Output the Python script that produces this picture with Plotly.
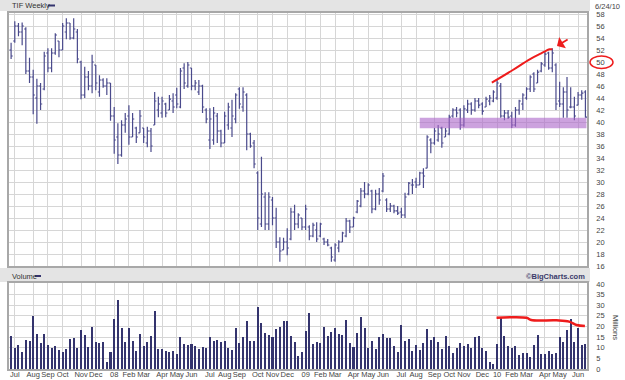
import pandas as pd
import plotly.graph_objects as go

# ---------------- data ----------------
week_start = "2007-06-25"
n_weeks = 157
weeks = pd.date_range(week_start, periods=n_weeks, freq="7D")

opens = [52.0, 53.5, 56.0, 55.0, 55.5, 48.5, 47.5, 44.0, 46.0, 45.5,
         51.5, 49.0, 51.5, 53.5, 52.0, 55.0, 56.5, 54.0, 55.0, 50.0,
         44.5, 47.5, 46.0, 49.5, 45.0, 47.0, 46.0, 46.5, 41.0, 37.5,
         34.5, 39.5, 41.0, 37.5, 39.0, 38.2, 39.0, 36.5, 38.5, 39.5,
         42.0, 41.5, 43.0, 42.0, 43.5, 44.5, 42.5, 49.0, 46.0, 49.0,
         46.0, 45.0, 46.0, 42.0, 37.0, 37.0, 41.0, 38.5, 36.5, 39.5,
         39.0, 40.5, 45.5, 42.5, 44.5, 38.0, 36.5, 31.5, 23.0, 27.5,
         23.0, 27.0, 24.0, 20.0, 18.7, 20.0, 20.5, 25.0, 23.0, 24.0,
         22.5, 22.5, 21.0, 22.0, 21.0, 20.5, 20.0, 19.0, 17.0, 19.0,
         20.0, 21.0, 23.5, 22.5, 25.0, 26.0, 28.5, 28.0, 28.5, 25.5,
         28.0, 28.5, 27.0, 25.5, 26.0, 25.2, 25.0, 24.5, 28.0, 29.5,
         30.0, 29.5, 31.5, 32.3, 37.0, 36.5, 37.0, 39.0, 37.5, 38.0,
         41.0, 42.0, 42.0, 39.5, 42.0, 43.0, 42.0, 43.5, 43.0, 42.5,
         43.5, 43.5, 44.0, 46.0, 41.0, 41.5, 41.0, 39.5, 42.0, 43.0,
         44.0, 45.5, 48.0, 46.5, 48.5, 49.5, 51.5, 49.0, 49.5, 43.5,
         43.0, 45.0, 42.5, 42.5, 42.8, 44.5, 45.0]
highs = [53.2, 56.8, 56.5, 56.6, 55.8, 50.7, 48.7, 47.2, 46.5, 51.7,
         52.3, 52.3, 54.8, 53.5, 56.5, 57.3, 56.5, 57.3, 55.5, 50.2,
         49.2, 48.5, 51.2, 49.5, 47.8, 47.3, 47.3, 46.5, 42.5, 39.8,
         40.3, 41.5, 42.8, 41.5, 39.2, 42.0, 39.0, 39.2, 39.0, 45.0,
         44.2, 44.2, 43.2, 44.5, 44.8, 45.7, 49.0, 49.8, 50.0, 49.0,
         47.0, 47.0, 46.2, 42.3, 42.3, 42.5, 41.5, 38.7, 41.7, 43.2,
         43.7, 44.8, 45.8, 45.8, 44.8, 38.2, 37.0, 31.8, 34.2, 28.3,
         28.3, 27.5, 25.7, 20.8, 20.7, 22.3, 25.7, 26.2, 24.8, 24.0,
         26.2, 22.8, 23.2, 23.3, 23.2, 20.7, 20.5, 19.2, 19.8, 20.3,
         21.7, 24.0, 23.7, 24.2, 27.0, 29.0, 30.0, 29.8, 28.7, 28.7,
         29.0, 31.5, 27.3, 26.5, 26.2, 26.0, 25.7, 28.2, 30.0, 30.5,
         30.7, 31.7, 32.3, 37.8, 37.3, 39.0, 39.5, 39.2, 39.0, 41.2,
         42.3, 42.5, 42.3, 42.8, 43.7, 43.3, 44.0, 44.0, 43.3, 44.2,
         44.5, 45.3, 47.0, 46.5, 42.0, 42.0, 41.7, 42.5, 43.7, 44.8,
         45.8, 47.8, 48.3, 48.7, 50.0, 51.7, 51.7, 52.3, 49.8, 46.7,
         45.8, 47.5, 45.8, 44.2, 45.0, 45.3, 45.3]
lows = [50.5, 53.2, 54.3, 52.8, 48.0, 46.5, 41.3, 39.7, 42.0, 45.3,
        48.3, 48.3, 51.2, 50.8, 52.0, 53.8, 53.7, 53.8, 49.8, 43.8,
        44.0, 45.3, 44.8, 45.3, 44.2, 45.7, 44.5, 40.2, 34.7, 33.0,
        34.2, 38.2, 36.2, 37.5, 36.5, 38.2, 36.5, 35.8, 35.0, 39.5,
        40.8, 40.7, 40.8, 42.0, 41.5, 42.3, 42.3, 45.5, 45.7, 45.3,
        45.3, 44.5, 41.5, 39.8, 35.5, 36.2, 36.5, 35.8, 36.5, 38.7,
        37.5, 39.8, 42.2, 41.7, 35.3, 35.7, 32.3, 22.0, 22.5, 22.0,
        22.0, 22.8, 19.0, 16.7, 18.7, 17.8, 20.3, 22.0, 22.3, 22.0,
        22.0, 20.3, 20.8, 20.0, 20.8, 19.5, 19.3, 16.7, 16.7, 18.3,
        20.0, 20.8, 21.5, 22.5, 24.8, 25.8, 27.3, 27.8, 24.8, 25.3,
        26.2, 28.3, 25.0, 25.0, 24.8, 24.5, 24.0, 24.0, 27.8, 28.0,
        29.0, 29.5, 29.0, 32.3, 34.8, 36.2, 36.7, 35.7, 37.5, 37.8,
        40.7, 40.8, 38.7, 39.2, 41.5, 41.2, 41.7, 42.3, 41.2, 42.5,
        42.8, 43.3, 43.7, 40.7, 40.3, 40.5, 39.0, 39.2, 41.2, 42.0,
        43.7, 45.0, 45.0, 46.5, 48.3, 49.2, 48.7, 48.3, 42.0, 42.5,
        40.7, 40.7, 42.3, 40.3, 42.8, 43.7, 40.7]
closes = [51.0, 56.0, 55.0, 56.0, 48.5, 47.5, 44.5, 46.0, 43.0, 51.0,
          49.0, 51.5, 54.5, 52.0, 56.0, 56.5, 54.0, 55.5, 50.5, 44.5,
          47.5, 46.0, 50.0, 46.5, 47.0, 46.0, 46.5, 41.0, 37.0, 34.5,
          39.5, 40.5, 37.5, 40.5, 37.5, 41.0, 37.5, 38.5, 36.0, 43.5,
          43.0, 43.5, 41.5, 43.8, 42.5, 43.0, 48.5, 46.5, 49.5, 46.0,
          46.5, 46.0, 42.5, 40.5, 40.5, 41.5, 38.5, 36.5, 41.0, 42.5,
          41.0, 44.5, 43.0, 45.0, 38.0, 36.0, 33.0, 24.0, 28.0, 23.0,
          27.5, 24.0, 20.0, 18.5, 20.0, 19.0, 25.0, 23.0, 24.5, 22.5,
          25.5, 21.0, 22.8, 20.5, 23.0, 20.0, 19.5, 17.5, 19.5, 20.0,
          21.5, 23.5, 22.5, 24.0, 26.8, 28.5, 28.0, 29.5, 25.5, 28.0,
          27.0, 31.0, 25.5, 26.0, 25.2, 24.8, 24.5, 27.5, 29.8, 29.5,
          29.5, 31.5, 31.0, 37.5, 36.5, 38.5, 38.0, 36.5, 38.5, 40.8,
          42.0, 41.5, 39.5, 42.2, 43.0, 42.0, 43.5, 42.8, 41.8, 43.8,
          44.0, 45.0, 46.5, 41.0, 41.5, 40.8, 39.5, 42.0, 43.5, 44.5,
          45.5, 47.5, 45.5, 48.3, 49.7, 51.3, 49.0, 51.5, 43.0, 43.0,
          45.0, 42.0, 42.5, 41.0, 44.5, 44.8, 40.8]
volume_millions = [15.5, 10.0, 11.3, 8.2, 13.6, 13.2, 24.9, 16.3, 12.1, 16.5,
                   11.3, 10.0, 10.8, 8.9, 7.8, 9.3, 14.1, 14.4, 10.0, 18.4,
                   16.0, 10.5, 19.9, 12.5, 12.4, 12.7, 3.5, 8.2, 23.5, 32.5,
                   19.1, 12.9, 19.5, 13.2, 8.5, 16.3, 11.0, 12.7, 15.5, 27.5,
                   9.3, 9.4, 8.5, 8.2, 8.6, 7.1, 14.9, 11.6, 11.3, 11.8,
                   11.0, 9.3, 10.5, 10.0, 15.2, 13.2, 13.6, 12.5, 13.2, 10.0,
                   8.9, 19.1, 12.1, 15.2, 22.6, 13.3, 13.3, 29.0, 21.5, 16.8,
                   16.0, 15.2, 18.8, 19.9, 22.6, 22.6, 15.5, 12.5, 6.1, 7.8,
                   18.0, 26.2, 11.9, 12.9, 12.1, 19.9, 15.5, 17.6, 19.5, 16.3,
                   16.0, 23.1, 12.1, 10.5, 17.1, 24.6, 19.1, 10.0, 13.2, 9.4,
                   14.9, 16.5, 14.7, 14.7, 10.8, 7.8, 20.7, 13.3, 14.1, 8.5,
                   11.2, 9.0, 12.4, 18.7, 13.5, 15.0, 12.8, 9.4, 15.6, 10.7,
                   7.7, 9.9, 12.4, 10.6, 11.7, 9.9, 15.1, 15.7, 9.9, 8.3,
                   3.3, 2.5, 12.0, 24.1, 15.6, 10.7, 9.9, 11.0, 6.8, 7.4,
                   7.4, 5.7, 11.3, 16.2, 7.2, 6.9, 8.5, 6.9, 7.7, 15.1,
                   12.8, 18.3, 23.3, 12.6, 19.2, 11.2, 11.7]

month_labels = ["Jul", "Aug", "Sep", "Oct", "Nov", "Dec", "08", "Feb", "Mar", "Apr", "May", "Jun",
                "Jul", "Aug", "Sep", "Oct", "Nov", "Dec", "09", "Feb", "Mar", "Apr", "May", "Jun",
                "Jul", "Aug", "Sep", "Oct", "Nov", "Dec", "10", "Feb", "Mar", "Apr", "May", "Jun"]
price_ticks = list(range(16, 59, 2))
volume_ticks = list(range(0, 41, 5))

# hand-drawn annotations (red trend lines, purple support band)
price_trend_dates = ["2009-12-25", "2010-02-03", "2010-03-07", "2010-03-29", "2010-04-14", "2010-04-19"]
price_trend_vals = [46.55, 48.67, 50.45, 51.45, 52.12, 52.12]
vol_trend_dates = ["2010-01-03", "2010-03-01", "2010-03-10", "2010-04-27", "2010-05-21", "2010-06-04", "2010-06-20"]
vol_trend_vals = [24.1, 24.1, 23.05, 22.9, 22.3, 20.7, 20.2]
band_dates = ["2009-08-10", "2010-06-23"]
band_prices = [38.95, 40.72]

# ---------------- figure ----------------
BAR = "#4a4a8c"
VOL = "#34346e"
GRID = "#d6d6d6"
BORDER = "#a8a8a8"
RED = "#ee1c1c"
FONT = "Liberation Sans"

# gridlines at the first weekly bar of each month
wk = pd.Series(weeks)
first_of_month = wk.groupby([wk.dt.year, wk.dt.month]).min().tolist()
first_of_month = [d for d in first_of_month if d >= pd.Timestamp("2007-07-01")]

fig = go.Figure()
fig.add_trace(go.Ohlc(
    x=weeks, open=opens, high=highs, low=lows, close=closes,
    increasing=dict(line=dict(color=BAR, width=1.2)),
    decreasing=dict(line=dict(color=BAR, width=1.2)),
    tickwidth=0.45, xaxis="x", yaxis="y", hoverinfo="skip"))
fig.add_trace(go.Bar(
    x=weeks, y=volume_millions, marker=dict(color=VOL, line=dict(width=0)),
    width=7 * 86400000 * 0.55, xaxis="x2", yaxis="y2", hoverinfo="skip"))
fig.add_trace(go.Scatter(
    x=price_trend_dates, y=price_trend_vals, mode="lines",
    line=dict(color=RED, width=2, shape="spline"), xaxis="x", yaxis="y", hoverinfo="skip"))
fig.add_trace(go.Scatter(
    x=vol_trend_dates, y=vol_trend_vals, mode="lines",
    line=dict(color=RED, width=2.5, shape="spline"), xaxis="x2", yaxis="y2", hoverinfo="skip"))

# pixel -> paper helpers (plot area x 9..587, y 13..369)
def px(x):
    return (x - 9) / 578.0

def py(y):
    return (369 - y) / 356.0

shapes = [
    # header bands
    dict(type="rect", xref="paper", yref="paper", x0=px(0), x1=px(590), y0=py(11), y1=py(0),
         fillcolor="#e4e4e4", line=dict(width=0), layer="below"),
    dict(type="rect", xref="paper", yref="paper", x0=px(0), x1=px(590), y0=py(282), y1=py(268),
         fillcolor="#e4e4e4", line=dict(width=0), layer="below"),
    # legend dashes
    dict(type="line", xref="paper", yref="paper", x0=px(48), x1=px(55), y0=py(5.5), y1=py(5.5),
         line=dict(color=VOL, width=2)),
    dict(type="line", xref="paper", yref="paper", x0=px(35), x1=px(41), y0=py(276), y1=py(276),
         line=dict(color=VOL, width=2)),
    # purple support band
    dict(type="rect", xref="x", yref="y", x0=band_dates[0], x1=band_dates[1],
         y0=band_prices[0], y1=band_prices[1],
         fillcolor="rgba(170,100,200,0.6)", line=dict(width=0), layer="above"),
    # red ellipse around 50
    dict(type="circle", xref="paper", yref="paper", x0=px(590), x1=px(613), y0=py(68.5), y1=py(56),
         line=dict(color=RED, width=1.5)),
]

annotations = [
    dict(text="TIF Weekly", xref="paper", yref="paper", x=px(10), y=py(5.5),
         xanchor="left", yanchor="middle", showarrow=False,
         font=dict(family=FONT, size=7.5, color="#333333")),
    dict(text="6/24/10", xref="paper", yref="paper", x=px(593), y=py(6),
         xanchor="left", yanchor="middle", showarrow=False,
         font=dict(family=FONT, size=7.5, color="#444444")),
    dict(text="Volume", xref="paper", yref="paper", x=px(10), y=py(276),
         xanchor="left", yanchor="middle", showarrow=False,
         font=dict(family=FONT, size=7.5, color="#333333")),
    dict(text="<b>©BigCharts.com</b>", xref="paper", yref="paper", x=px(587), y=py(276),
         xanchor="right", yanchor="middle", showarrow=False,
         font=dict(family=FONT, size=7.5, color="#3a3a6a")),
    dict(text="Millions", xref="paper", yref="paper", x=px(616), y=py(327),
         xanchor="center", yanchor="middle", showarrow=False, textangle=90,
         font=dict(family=FONT, size=7.5, color="#444444")),
    dict(text="", x="2010-04-28", y=52.67, ax="2010-05-21", ay=53.9,
         xref="x", yref="y", axref="x", ayref="y", showarrow=True,
         arrowhead=1, arrowsize=1.2, arrowwidth=1.8, arrowcolor=RED),
]

tickfont = dict(family=FONT, size=7.5, color="#444444")
x_range = ["2007-06-21", "2010-06-24"]

fig.update_layout(
    width=625, height=380,
    margin=dict(l=9, r=38, t=13, b=11, autoexpand=False),
    paper_bgcolor="white", plot_bgcolor="white",
    showlegend=False, bargap=0,
    shapes=shapes, annotations=annotations,
    xaxis=dict(domain=[0, 1], anchor="y", range=x_range, type="date", automargin=False,
               tickvals=first_of_month, showticklabels=False, ticks="",
               showgrid=True, gridcolor=GRID, gridwidth=1,
               showline=True, linecolor=BORDER, linewidth=1.5, mirror=True,
               zeroline=False, rangeslider=dict(visible=False)),
    yaxis=dict(domain=[py(266), 1], anchor="x", range=[16, 58.17], side="right", automargin=False,
               tickvals=price_ticks, ticks="", ticklabelstandoff=6, tickfont=tickfont,
               showgrid=True, gridcolor=GRID, gridwidth=1,
               showline=True, linecolor=BORDER, linewidth=1.5, mirror=True, zeroline=False),
    xaxis2=dict(domain=[0, 1], anchor="y2", range=x_range, type="date", matches="x", automargin=False,
                tickvals=first_of_month, ticktext=month_labels, ticks="", tickfont=tickfont,
                tickangle=0, ticklabelstandoff=-3,
                showgrid=True, gridcolor=GRID, gridwidth=1,
                showline=True, linecolor=BORDER, linewidth=1.5, mirror=True,
                zeroline=False, rangeslider=dict(visible=False)),
    yaxis2=dict(domain=[0, py(283)], anchor="x2", range=[0, 40.47], side="right", automargin=False,
                tickvals=volume_ticks, ticks="", ticklabelstandoff=6, tickfont=tickfont,
                showgrid=True, gridcolor=GRID, gridwidth=1,
                showline=True, linecolor=BORDER, linewidth=1.5, mirror=True, zeroline=False),
)

fig.write_html("out.html")
